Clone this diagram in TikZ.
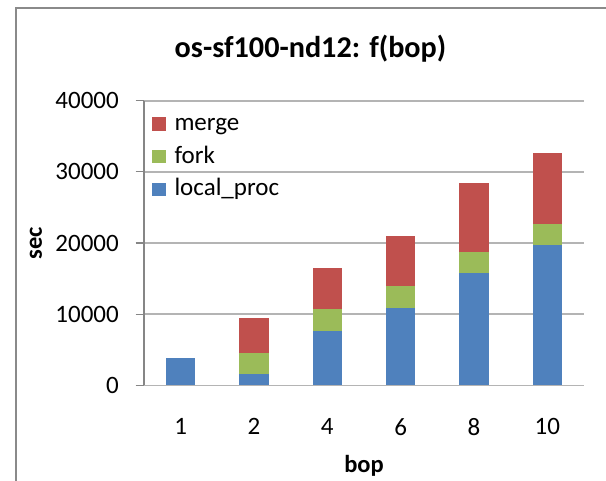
\documentclass[tikz,border=0pt]{standalone}
\usepackage{fontspec}
\setmainfont{Carlito}

\definecolor{barblue}{HTML}{4F81BD}
\definecolor{barred}{HTML}{C0504D}
\definecolor{bargreen}{HTML}{9BBB59}
\definecolor{gridgray}{HTML}{B4B4B4}
\definecolor{axisgray}{HTML}{868686}
\definecolor{framegray}{HTML}{8A8A8A}

% value (thousands of seconds) -> vertical position, in pixel-like units
\newcommand{\valy}[1]{{385.3-7.115*(#1)}}

\tikzset{
  ticklabel/.style={font=\fontsize{25}{30}\selectfont, text=black, inner sep=0pt},
  cattext/.style={font=\fontsize{25}{30}\selectfont, text=black, inner sep=0pt, anchor=center},
  axistitle/.style={font=\bfseries\fontsize{24.5}{30}\selectfont, text=black, inner sep=0pt},
  legendtext/.style={font=\fontsize{25}{30}\selectfont, text=black, inner sep=0pt, anchor=base west},
  gridline/.style={draw=gridgray, line width=1.6pt},
  axisline/.style={draw=axisgray, line width=1.1pt},
}

\begin{document}
\begin{tikzpicture}[x=1pt,y=-1pt]
\useasboundingbox (0,0) rectangle (606,480);
\fill[white] (0,0) rectangle (606,480);

% chart frame
\draw[framegray, line width=2pt] (15.5,481) -- (15.5,8) -- (607,8);

% title
\node[font=\bfseries\fontsize{30.2}{35}\selectfont, anchor=base, inner sep=0pt] (title) at (310.5,57.3) {os-sf100-nd12: f(bop)};

% horizontal gridlines
\foreach \v in {0,10,20,30,40}
  \draw[gridline] (144,\valy{\v}) -- (584,\valy{\v});

% stacked bars: centre / local_proc / +fork / +merge (cumulative, thousands)
\foreach \n/\cx/\a/\b/\c in {b1/180.7/3.795/3.795/3.795,
                              b2/254.0/1.588/4.497/9.416,
                              b4/327.3/7.674/10.681/16.486,
                              b6/400.7/10.864/14.000/20.980,
                              b8/474.0/15.826/18.777/28.475,
                              b10/547.3/19.677/22.670/32.691}{
  \fill[barblue]  (\cx-14.7,\valy{0})  rectangle (\cx+14.7,\valy{\a});
  \ifdim\b pt>\a pt
    \fill[bargreen] (\cx-14.7,\valy{\a}) rectangle (\cx+14.7,\valy{\b});
  \fi
  \ifdim\c pt>\b pt
    \fill[barred]   (\cx-14.7,\valy{\b}) rectangle (\cx+14.7,\valy{\c});
  \fi
}

% value axis with ticks
\draw[axisline] (144,\valy{0}) -- (144,\valy{40});
\foreach \v in {0,10,20,30,40}
  \draw[axisline] (135.7,\valy{\v}) -- (144,\valy{\v});

% value axis labels
\node[ticklabel, anchor=east] (y0) at (119,\valy{0}) {0};
\node[ticklabel, anchor=east] (y1) at (119,\valy{10}) {10000};
\node[ticklabel, anchor=east] (y2) at (119,\valy{20}) {20000};
\node[ticklabel, anchor=east] (y3) at (119,\valy{30}) {30000};
\node[ticklabel, anchor=east] (y4) at (119,\valy{40}) {40000};

% category labels
\node[cattext] (c1)  at (180.7,426.7) {1};
\node[cattext] (c2)  at (254.0,426.7) {2};
\node[cattext] (c4)  at (327.3,426.7) {4};
\node[cattext] (c6)  at (400.7,426.7) {6};
\node[cattext] (c8)  at (474.0,426.7) {8};
\node[cattext] (c10) at (547.3,426.7) {10};

% axis titles
\node[axistitle, anchor=base] (xtitle) at (364,472.7) {bop};
\node[axistitle, rotate=90] (ytitle) at (36,243.3) {sec};

% legend
\fill[barred]   (152.3,117.3) rectangle ++(13.5,13.5);
\fill[bargreen] (152.3,149.9) rectangle ++(13.5,13.5);
\fill[barblue]  (152.3,182.5) rectangle ++(13.5,13.5);
\node[legendtext] (lmerge) at (174.3,130.7) {merge};
\node[legendtext] (lfork)  at (174.3,163.3) {fork};
\node[legendtext] (lproc)  at (174.3,195.7) {local\_proc};
\end{tikzpicture}
\end{document}
